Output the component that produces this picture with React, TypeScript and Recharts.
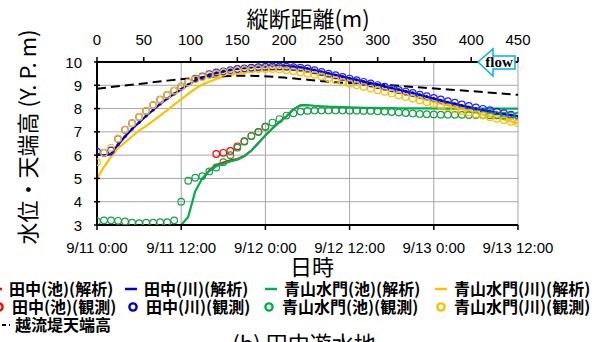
import React from "react"
import { ComposedChart, Line, Scatter, XAxis, YAxis, CartesianGrid } from "recharts"

const hours = [
  0, 1, 2, 3, 4, 5, 6, 7, 8, 9, 10, 11, 12, 13, 14, 15, 16, 17, 18, 19, 20,
  21, 22, 23, 24, 25, 26, 27, 28, 29, 30, 31, 32, 33, 34, 35, 36, 37, 38, 39, 40,
  41, 42, 43, 44, 45, 46, 47, 48, 49, 50, 51, 52, 53, 54, 55, 56, 57, 58, 59, 60,
]

const timeTicks = [0, 12, 24, 36, 48, 60]
const timeLabels = ["9/11 0:00", "9/11 12:00", "9/12 0:00", "9/12 12:00", "9/13 0:00", "9/13 12:00"]
const distTicks = [0, 50, 100, 150, 200, 250, 300, 350, 400, 450]
const levelTicks = [3, 4, 5, 6, 7, 8, 9, 10]

// 解析 (hourly)
const tanakaPondCalcHours = [15, 16, 17, 18, 19, 20, 21, 22, 23, 24, 25, 26, 27, 28, 29, 30]
const tanakaPondCalc = [4.95, 5.35, 5.58, 5.69, 5.78, 5.84, 5.97, 6.2, 6.52, 6.85, 7.15, 7.42, 7.67, 7.97, 8.14, 8.15]

const tanakaRiverCalc = [
  6.05, 5.98, 6.05, 6.45, 6.8, 7.12, 7.4, 7.68, 7.94, 8.2,
  8.43, 8.63, 8.83, 9.03, 9.2, 9.33, 9.45, 9.53, 9.6, 9.66,
  9.71, 9.75, 9.78, 9.8, 9.82, 9.83, 9.83, 9.82, 9.8, 9.77,
  9.72, 9.65, 9.58, 9.51, 9.44, 9.37, 9.3, 9.23, 9.16, 9.09,
  9.02, 8.95, 8.88, 8.81, 8.74, 8.67, 8.59, 8.51, 8.43, 8.35,
  8.27, 8.2, 8.13, 8.06, 8.0, 7.94, 7.88, 7.82, 7.77, 7.72,
  7.67,
]

const aoyamaPondCalc = [
  3.0, 3.0, 3.0, 3.0, 3.0, 3.0, 3.0, 3.0, 3.0, 3.0,
  3.0, 3.0, 3.0, 3.35, 4.45, 5.0, 5.32, 5.52, 5.63, 5.73,
  5.8, 5.95, 6.2, 6.52, 6.85, 7.15, 7.42, 7.67, 7.97, 8.14,
  8.15, 8.12, 8.1, 8.08, 8.07, 8.06, 8.05, 8.04, 8.03, 8.03,
  8.02, 8.02, 8.02, 8.01, 8.01, 8.01, 8.01, 8.01, 8.01, 8.0,
  8.0, 8.0, 8.0, 8.0, 8.0, 8.0, 8.0, 8.0, 8.0, 8.0,
  8.0,
]

const aoyamaRiverCalc = [
  5.0, 5.5, 5.92, 6.3, 6.55, 6.8, 7.05, 7.25, 7.47, 7.7,
  7.92, 8.17, 8.4, 8.63, 8.85, 9.03, 9.15, 9.27, 9.37, 9.45,
  9.51, 9.56, 9.6, 9.63, 9.65, 9.67, 9.68, 9.68, 9.66, 9.62,
  9.57, 9.51, 9.45, 9.38, 9.31, 9.24, 9.17, 9.1, 9.03, 8.96,
  8.89, 8.82, 8.75, 8.68, 8.61, 8.53, 8.45, 8.37, 8.29, 8.21,
  8.13, 8.05, 7.97, 7.89, 7.81, 7.74, 7.67, 7.6, 7.53, 7.45,
  7.37,
]

// 観測 (hourly)
const tanakaPondObsHours = [17, 18, 19, 20, 21, 22, 23, 24]
const tanakaPondObs = [6.05, 6.1, 6.18, 6.38, 6.6, 6.82, 7.0, 7.22]

const tanakaRiverObs = [
  6.15, 6.1, 6.2, 6.7, 7.09, 7.37, 7.64, 7.9, 8.15, 8.38,
  8.59, 8.77, 8.95, 9.13, 9.28, 9.38, 9.48, 9.55, 9.6, 9.65,
  9.7, 9.73, 9.76, 9.78, 9.8, 9.81, 9.81, 9.8, 9.78, 9.76,
  9.72, 9.65, 9.57, 9.5, 9.43, 9.36, 9.29, 9.22, 9.15, 9.08,
  9.01, 8.94, 8.87, 8.8, 8.73, 8.67, 8.6, 8.53, 8.46, 8.39,
  8.32, 8.25, 8.18, 8.11, 8.05, 7.99, 7.93, 7.87, 7.8, 7.74,
  7.68,
]

const aoyamaPondObs = [
  3.15, 3.2, 3.2, 3.18, 3.15, 3.1, 3.08, 3.1, 3.1, 3.12,
  3.12, 3.2, 4.0, 4.9, 5.03, 5.1, 5.3, 5.47, 5.7, 6.0,
  6.32, 6.58, 6.82, 7.0, 7.22, 7.4, 7.55, 7.7, 7.8, 7.87,
  7.9, 7.92, 7.92, 7.92, 7.92, 7.92, 7.91, 7.91, 7.9, 7.9,
  7.88, 7.87, 7.85, 7.83, 7.81, 7.79, 7.77, 7.76, 7.75, 7.74,
  7.74, 7.73, 7.73, 7.72, 7.72, 7.72, 7.71, 7.71, 7.7, 7.7,
  7.7,
]

const aoyamaRiverObs = [
  5.7, 6.1, 6.32, 6.72, 7.1, 7.37, 7.64, 7.9, 8.15, 8.38,
  8.59, 8.77, 8.95, 9.12, 9.25, 9.35, 9.44, 9.5, 9.55, 9.6,
  9.63, 9.66, 9.68, 9.7, 9.7, 9.7, 9.68, 9.65, 9.6, 9.55,
  9.5, 9.45, 9.38, 9.3, 9.22, 9.14, 9.07, 9.0, 8.93, 8.86,
  8.79, 8.72, 8.65, 8.57, 8.5, 8.43, 8.35, 8.27, 8.2, 8.12,
  8.05, 7.97, 7.9, 7.83, 7.76, 7.7, 7.63, 7.56, 7.5, 7.43,
  7.37,
]

// 越流堤天端高 vs 縦断距離
const crestDist = [0, 25, 50, 75, 100, 125, 150, 175, 200, 225, 250, 275, 300, 325, 350, 375, 400, 425, 450]
const crestLevel = [8.85, 8.97, 9.08, 9.2, 9.3, 9.38, 9.41, 9.4, 9.33, 9.24, 9.14, 9.09, 9.03, 8.97, 8.89, 8.82, 8.75, 8.67, 8.59]

const RED = "#ff0000"
const BLUE = "#0000d0"
const GREEN = "#00b050"
const YELLOW = "#ffc000"

const numFont = "'Liberation Sans', Arial, sans-serif"
const jpFont = "'Noto Sans CJK JP', 'Noto Sans CJK SC', sans-serif"

const pts = (ts: number[], vs: number[]) => ts.map((t, i) => ({ t, v: vs[i] }))
const crestData = crestDist.map((d, i) => ({ d, v: crestLevel[i] }))

const circle = (color: string) => (p: any) => (
  <circle cx={p.cx} cy={p.cy} r={3.3} fill="none" stroke={color} strokeWidth={1.2} />
)

function TimeTick(props: any) {
  const { x, y, payload } = props
  const label = timeLabels[timeTicks.indexOf(payload.value)]
  return (
    <text x={x} y={y + 23} textAnchor="middle" fontSize={15} fontFamily={numFont} fill="#000">
      {label}
    </text>
  )
}

function DistTick(props: any) {
  const { x, y, payload } = props
  return (
    <text x={x} y={y} textAnchor="middle" fontSize={15} fontFamily={numFont} fill="#000">
      {payload.value}
    </text>
  )
}

function LevelTick(props: any) {
  const { x, y, payload } = props
  return (
    <g>
      <line x1={x + 12} x2={x + 18} y1={y} y2={y} stroke="#000" strokeWidth={1.5} />
      <text x={x} y={y + 5.5} textAnchor="end" fontSize={15} fontFamily={numFont} fill="#000">
        {payload.value}
      </text>
    </g>
  )
}

const legendRows = [
  [
    { x: -4, label: "田中(池)(解析)", color: RED, kind: "line" },
    { x: 131, label: "田中(川)(解析)", color: BLUE, kind: "line" },
    { x: 271, label: "青山水門(池)(解析)", color: GREEN, kind: "line" },
    { x: 441, label: "青山水門(川)(解析)", color: YELLOW, kind: "line" },
  ],
  [
    { x: -1, label: "田中(池)(観測)", color: RED, kind: "circle" },
    { x: 133, label: "田中(川)(観測)", color: BLUE, kind: "circle" },
    { x: 269, label: "青山水門(池)(観測)", color: GREEN, kind: "circle" },
    { x: 441, label: "青山水門(川)(観測)", color: YELLOW, kind: "circle" },
  ],
  [{ x: 3, label: "越流堤天端高", color: "#000", kind: "dash" }],
]
const legendY = [289, 307, 325]

function Overlay() {
  return (
    <svg width={599} height={342} style={{ position: "absolute", left: 0, top: 0, pointerEvents: "none", overflow: "hidden" }}>
      <text x={308} y={27} textAnchor="middle" fontSize={22} fontFamily={jpFont} fill="#000">縦断距離(m)</text>
      <text transform="translate(26,137) rotate(-90)" textAnchor="middle" dominantBaseline="central" fontSize={22} fontFamily={jpFont} fill="#000">
        水位・天端高 (Y. P. m)
      </text>
      <text x={312} y={275} textAnchor="middle" fontSize={22} fontFamily={jpFont} fill="#000">日時</text>
      {legendRows.map((row, r) =>
        row.map((e) => {
          const cy = legendY[r]
          return (
            <g key={e.label}>
              {e.kind === "line" && <line x1={e.x - 6} x2={e.x + 6} y1={cy} y2={cy} stroke={e.color} strokeWidth={2.5} />}
              {e.kind === "circle" && <circle cx={e.x} cy={cy} r={3.6} fill="none" stroke={e.color} strokeWidth={2.4} />}
              {e.kind === "dash" && <line x1={e.x - 8} x2={e.x + 7} y1={cy} y2={cy} stroke={e.color} strokeWidth={2} strokeDasharray="4 3" />}
              <text x={e.x + (e.kind === "dash" ? 12 : 13)} y={cy + 5.5} fontSize={16} fontWeight="bold" fontFamily={jpFont} fill="#000">
                {e.label}
              </text>
            </g>
          )
        })
      )}
      <polygon points="478,62 493,49 493,56 515,56 515,69 493,69 493,76" fill="#fff" stroke="#00b0f0" strokeWidth={1.5} />
      <text x={499} y={67} textAnchor="middle" fontSize={15} fontWeight="bold" fontFamily="'Liberation Serif', 'DejaVu Serif', serif" fill="#000">flow</text>
      <text x={304} y={352} textAnchor="middle" fontSize={22} fontFamily={jpFont} fill="#000">(b) 田中遊水地</text>
    </svg>
  )
}

export default function App() {
  const axisLine = { stroke: "#000", strokeWidth: 2 }
  return (
    <div style={{ position: "relative", width: 599, height: 342, background: "#fff", overflow: "hidden" }}>
      <style>{"body{margin:0}"}</style>
      <ComposedChart width={599} height={342} margin={{ top: 0, right: 81, bottom: 67, left: 0 }}>
        <CartesianGrid xAxisId="time" yAxisId="y" stroke="#a6a6a6" strokeWidth={1} />
        <XAxis
          xAxisId="time"
          dataKey="t"
          type="number"
          orientation="bottom"
          domain={[0, 60]}
          ticks={timeTicks}
          interval={0}
          height={50}
          allowDataOverflow
          axisLine={axisLine}
          tickLine={{ stroke: "#000", strokeWidth: 1.5 }}
          tickSize={5}
          tickMargin={0}
          tick={<TimeTick />}
        />
        <XAxis
          xAxisId="dist"
          dataKey="d"
          type="number"
          orientation="top"
          domain={[0, 450]}
          ticks={distTicks}
          interval={0}
          height={62}
          allowDataOverflow
          axisLine={axisLine}
          tickLine={{ stroke: "#000", strokeWidth: 1.5 }}
          tickSize={5}
          tickMargin={12}
          tick={<DistTick />}
        />
        <YAxis
          yAxisId="y"
          type="number"
          domain={[3, 10]}
          ticks={levelTicks}
          interval={0}
          width={97}
          allowDataOverflow
          axisLine={axisLine}
          tickLine={false}
          tickSize={0}
          tickMargin={15}
          tick={<LevelTick />}
        />
        <YAxis yAxisId="r" orientation="right" type="number" domain={[3, 10]} width={0} tick={false} tickLine={false} axisLine={axisLine} />

        <Line xAxisId="time" yAxisId="y" data={pts(tanakaPondCalcHours, tanakaPondCalc)} dataKey="v" stroke={RED} strokeWidth={2} dot={false} isAnimationActive={false} />
        <Line xAxisId="time" yAxisId="y" data={pts(hours, tanakaRiverCalc)} dataKey="v" stroke={BLUE} strokeWidth={2.2} dot={{ r: 1.6, fill: BLUE, stroke: "none" }} isAnimationActive={false} />
        <Line xAxisId="time" yAxisId="y" data={pts(hours, aoyamaPondCalc)} dataKey="v" stroke={GREEN} strokeWidth={2.2} dot={false} isAnimationActive={false} />
        <Line xAxisId="time" yAxisId="y" data={pts(hours, aoyamaRiverCalc)} dataKey="v" stroke={YELLOW} strokeWidth={2.2} dot={false} isAnimationActive={false} />

        <Scatter xAxisId="time" yAxisId="y" data={pts(tanakaPondObsHours, tanakaPondObs)} dataKey="v" shape={circle(RED)} isAnimationActive={false} />
        <Scatter xAxisId="time" yAxisId="y" data={pts(hours, tanakaRiverObs)} dataKey="v" shape={circle("#2020ff")} isAnimationActive={false} />
        <Scatter xAxisId="time" yAxisId="y" data={pts(hours, aoyamaPondObs)} dataKey="v" shape={circle("#18a048")} isAnimationActive={false} />
        <Scatter xAxisId="time" yAxisId="y" data={pts(hours, aoyamaRiverObs)} dataKey="v" shape={circle(YELLOW)} isAnimationActive={false} />

        <Line xAxisId="dist" yAxisId="y" data={crestData} dataKey="v" stroke="#000" strokeWidth={2} strokeDasharray="9 5" dot={false} isAnimationActive={false} />
      </ComposedChart>
      <Overlay />
    </div>
  )
}
